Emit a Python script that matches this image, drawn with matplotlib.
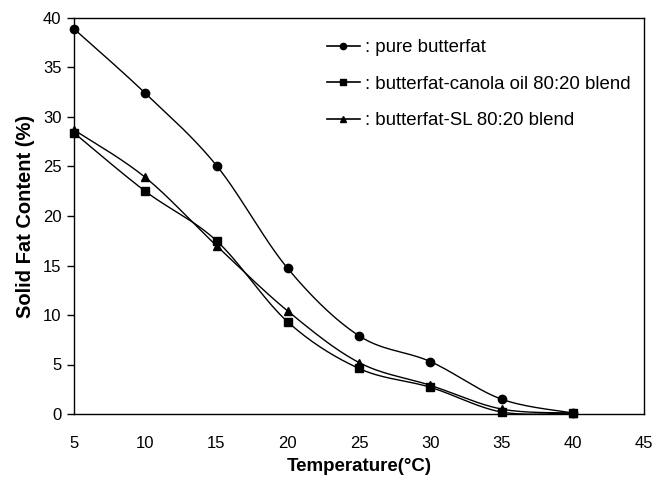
import numpy as np
import matplotlib
matplotlib.use("Agg")
import matplotlib.pyplot as plt

plt.rcParams['font.family'] = ['Liberation Sans', 'DejaVu Sans']

temperature = [5, 10, 15, 20, 25, 30, 35, 40]
pure_butterfat = [38.9, 32.4, 25.1, 14.7, 7.9, 5.3, 1.5, 0.1]
canola_blend = [28.4, 22.5, 17.5, 9.3, 4.6, 2.7, 0.2, 0.1]
sl_blend = [28.7, 23.9, 17.0, 10.4, 5.2, 2.9, 0.5, 0.1]
labels = [": pure butterfat", ": butterfat-canola oil 80:20 blend", ": butterfat-SL 80:20 blend"]
markers = ['o', 's', '^']

XLIM = (5, 45)
YLIM = (0, 40)


def smooth(x, y, n=30):
    # Catmull-Rom smoothing in normalized (screen-like) coordinates
    sx = 570.0 / (XLIM[1] - XLIM[0])
    sy = 396.0 / (YLIM[1] - YLIM[0])
    P = np.column_stack([np.asarray(x, float) * sx, np.asarray(y, float) * sy])
    P = np.vstack([P[0], P, P[-1]])
    out = []
    for i in range(1, len(P) - 2):
        p0, p1, p2, p3 = P[i - 1], P[i], P[i + 1], P[i + 2]
        t = np.linspace(0, 1, n)[:, None]
        c1 = p1 + (p2 - p0) / 6.0
        c2 = p2 - (p3 - p1) / 6.0
        b = ((1 - t) ** 3) * p1 + 3 * ((1 - t) ** 2) * t * c1 + 3 * (1 - t) * t ** 2 * c2 + t ** 3 * p2
        out.append(b if i == 1 else b[1:])
    B = np.vstack(out)
    return B[:, 0] / sx, B[:, 1] / sy


fig = plt.figure(figsize=(6.55, 4.79), dpi=100)
ax = fig.add_axes([74 / 655, 65 / 479, 570 / 655, 396 / 479])

handles = []
for ys, m, lab in zip([pure_butterfat, canola_blend, sl_blend], markers, labels):
    xs_s, ys_s = smooth(temperature, ys)
    ax.plot(xs_s, ys_s, color='black', lw=1.0, clip_on=False, zorder=2)
    ax.plot(temperature, ys, linestyle='none', marker=m, color='black', ms=6, clip_on=False, zorder=3)
    h, = ax.plot([], [], color='black', lw=1.2, marker=m, ms=4.5, label=lab)
    handles.append(h)

ax.set_xlim(*XLIM)
ax.set_ylim(*YLIM)
ax.set_xticks(range(5, 46, 5))
ax.set_yticks(range(0, 41, 5))
ax.tick_params(axis='y', direction='out', length=5, width=1, labelsize=12, pad=4)
ax.tick_params(axis='x', length=0, labelsize=12, pad=16)
for s in ax.spines.values():
    s.set_linewidth(1.0)

ax.set_xlabel('Temperature(°C)', fontsize=13.5, fontweight='bold', labelpad=5)
ax.set_ylabel('Solid Fat Content (%)', fontsize=14.5, fontweight='bold', labelpad=6)

leg = ax.legend(handles=handles, loc='upper left', bbox_to_anchor=(0.43, 0.965),
                frameon=False, fontsize=13.4, handlelength=1.8, handletextpad=0.25,
                labelspacing=1.05, borderaxespad=0)

fig.savefig('out.png', dpi=100)
